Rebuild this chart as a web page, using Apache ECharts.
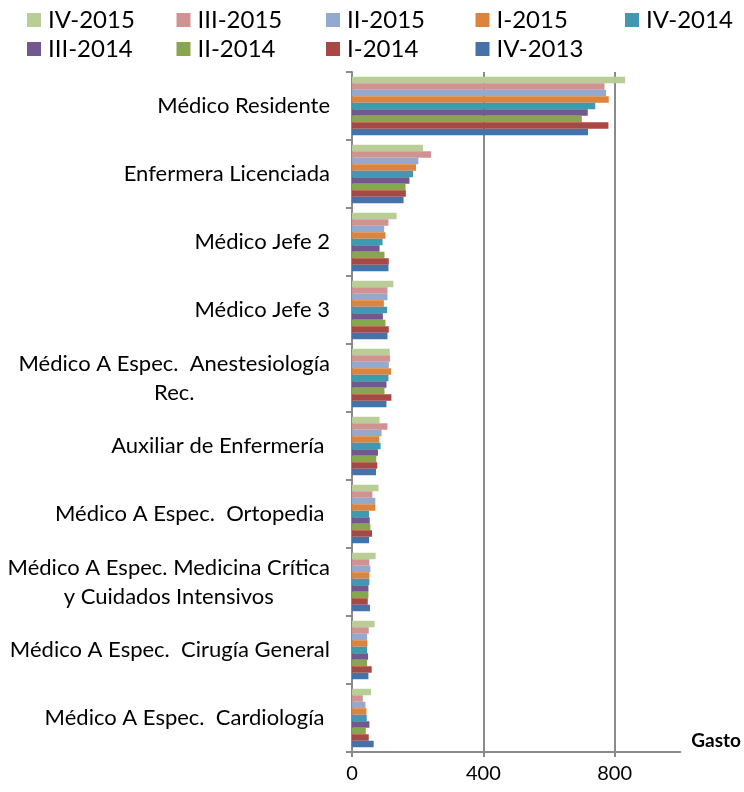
<!DOCTYPE html>
<html lang="es">
<head>
    <meta charset="UTF-8">
    <title>Gasto por cargo</title>
    <style>
        html, body { margin: 0; padding: 0; background: #fff; }
        #container { width: 744px; height: 792px; }
    </style>
</head>
<body>
    <div id="container"></div>
    <script src="https://cdn.jsdelivr.net/npm/echarts@6/dist/echarts.min.js"></script>
    <script>
        // categorías (de arriba hacia abajo)
        const cargos = [
            'Médico Residente',
            'Enfermera Licenciada',
            'Médico Jefe 2',
            'Médico Jefe 3',
            'Médico A Espec.  Anestesiología\nRec.',
            'Auxiliar de Enfermería ',
            'Médico A Espec.  Ortopedia ',
            'Médico A Espec. Medicina Crítica\ny Cuidados Intensivos',
            'Médico A Espec.  Cirugía General',
            'Médico A Espec.  Cardiología '
        ];

        const periodos = ['IV-2015', 'III-2015', 'II-2015', 'I-2015', 'IV-2014',
                          'III-2014', 'II-2014', 'I-2014', 'IV-2013'];

        // valores por periodo, mismo orden que cargos
        const iv2015  = [832, 216, 136, 126, 115, 84, 81, 72, 69, 58];
        const iii2015 = [769, 241, 111, 108, 116, 108, 62, 53, 51, 33];
        const ii2015  = [774, 202, 98, 108, 112, 90, 71, 56, 46, 41];
        const i2015   = [782, 195, 102, 97, 119, 83, 71, 53, 47, 44];
        const iv2014  = [741, 186, 93, 107, 111, 87, 52, 53, 46, 45];
        const iii2014 = [718, 175, 84, 94, 105, 79, 54, 50, 49, 53];
        const ii2014  = [700, 163, 99, 102, 99, 74, 56, 50, 46, 42];
        const i2014   = [781, 164, 112, 112, 120, 77, 61, 48, 60, 51];
        const iv2013  = [719, 157, 111, 108, 105, 73, 52, 55, 50, 66];

        const valores = [iv2015, iii2015, ii2015, i2015, iv2014, iii2014, ii2014, i2014, iv2013];
        const colores = ['#B9CD96', '#D19392', '#93A9CF', '#DB843D', '#4198AF',
                         '#71588F', '#89A54E', '#AA4643', '#4572A7'];

        const fuente = 'Lato, "Noto Sans", sans-serif';
        const gris = '#8a8a8a';

        // una leyenda por periodo, en columnas fijas como en Excel
        const leyendas = periodos.map((p, i) => ({
            data: [p],
            left: 27 + (i % 5) * 149.5,
            top: i < 5 ? 8 : 37,
            padding: 0,
            itemWidth: 14,
            itemHeight: 14,
            icon: 'rect',
            textStyle: { fontFamily: fuente, fontSize: 24, lineHeight: 24, color: '#000', padding: [0, 0, 0, 2] }
        }));

        const option = {
            animation: false,
            color: colores,
            legend: leyendas,
            grid: { left: 352, right: 62, top: 72, bottom: 40, containLabel: false },
            xAxis: {
                type: 'value',
                min: 0,
                max: 1000,
                interval: 400,
                name: 'Gasto',
                nameLocation: 'end',
                nameGap: 11,
                nameTextStyle: { fontFamily: fuente, fontSize: 19, fontWeight: 'bold', color: '#000',
                                 align: 'left', verticalAlign: 'bottom', padding: [0, 0, 2, 0] },
                axisLine: { show: true, lineStyle: { color: gris, width: 2 } },
                axisTick: { show: true, length: 5, lineStyle: { color: gris, width: 2 }, customValues: [0, 400, 800] },
                axisLabel: { fontFamily: fuente, fontSize: 20, color: '#000', margin: 12, customValues: [0, 400, 800] },
                splitLine: { show: true, lineStyle: { color: [gris, gris, gris, 'rgba(0,0,0,0)'], width: 2 } }
            },
            yAxis: {
                type: 'category',
                inverse: true,
                data: cargos,
                axisLine: { show: true, lineStyle: { color: gris, width: 2 } },
                axisTick: { show: true, length: 6, lineStyle: { color: gris, width: 2 } },
                axisLabel: {
                    margin: 22,
                    formatter: v => v.split('\n').map(s => '{c|' + s + '}').join('\n'),
                    rich: {
                        c: { fontFamily: fuente, fontSize: 22, color: '#000', align: 'center', lineHeight: 29 }
                    }
                }
            },
            series: periodos.map((p, i) => ({
                name: p,
                type: 'bar',
                data: valores[i],
                barGap: '0%',
                barCategoryGap: '14%'
            }))
        };

        const chart = echarts.init(document.getElementById('container'));
        chart.setOption(option);
    </script>
</body>
</html>
